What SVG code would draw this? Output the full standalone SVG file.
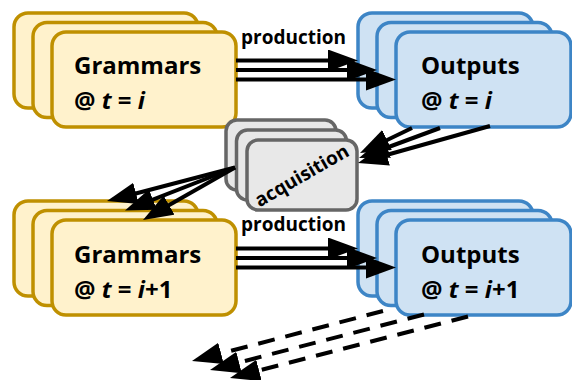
<svg xmlns="http://www.w3.org/2000/svg" width="572" height="380" viewBox="0 0 572 380">
<style>
.g{fill:#fff2cc;stroke:#bf9000;stroke-width:3.5}
.o{fill:#cfe2f3;stroke:#3d85c6;stroke-width:3.5}
.a{fill:#e8e8e8;stroke:#666666;stroke-width:3.5}
.t{font-family:"Open Sans","Noto Sans","DejaVu Sans",sans-serif;font-weight:bold;font-size:24px;fill:#000}
.s{font-family:"Open Sans","Noto Sans","DejaVu Sans",sans-serif;font-weight:bold;font-size:19px;fill:#000}
.c{fill:none;stroke:#000;stroke-width:4;marker-end:url(#ah)}
.d{stroke-dasharray:17 11}
</style>
<defs>
<marker id="ah" viewBox="0 0 30 22" markerWidth="30" markerHeight="22" markerUnits="userSpaceOnUse" refX="20" refY="11" orient="auto">
<path d="M0,0 L30,11 L0,22 z" fill="#000"/>
</marker>
</defs>
<rect width="572" height="380" fill="#fff"/>
<g id="grammars-i">
<rect class="g" x="14" y="13" width="184" height="95" rx="14"/>
<rect class="g" x="33" y="22.5" width="184" height="95" rx="14"/>
<rect class="g" x="52" y="32" width="184" height="95" rx="14"/>
<text class="t" x="74" y="74">Grammars</text>
<text class="t" x="74" y="109">@ <tspan font-style="italic">t</tspan> = <tspan font-style="italic">i</tspan></text>
</g>
<g id="outputs-i">
<rect class="o" x="358" y="13" width="175" height="95" rx="14"/>
<rect class="o" x="377" y="22.5" width="175" height="95" rx="14"/>
<rect class="o" x="396" y="32" width="175" height="95" rx="14"/>
<text class="t" x="421" y="74">Outputs</text>
<text class="t" x="421" y="109">@ <tspan font-style="italic">t</tspan> = <tspan font-style="italic">i</tspan></text>
</g>
<g id="acquisition">
<rect class="a" x="226" y="120" width="110" height="70" rx="11"/>
<rect class="a" x="236.5" y="130" width="110" height="70" rx="11"/>
<rect class="a" x="247" y="140" width="110" height="70" rx="11"/>
<text class="s" transform="translate(302,176) rotate(-30)" x="0" y="6" text-anchor="middle">acquisition</text>
</g>
<g id="grammars-i1">
<rect class="g" x="14" y="201" width="184" height="95" rx="14"/>
<rect class="g" x="33" y="210.5" width="184" height="95" rx="14"/>
<rect class="g" x="52" y="220" width="184" height="95" rx="14"/>
<text class="t" x="74" y="263">Grammars</text>
<text class="t" x="74" y="298">@ <tspan font-style="italic">t</tspan> = <tspan font-style="italic">i</tspan>+1</text>
</g>
<g id="outputs-i1">
<rect class="o" x="358" y="201" width="175" height="95" rx="14"/>
<rect class="o" x="377" y="210.5" width="175" height="95" rx="14"/>
<rect class="o" x="396" y="220" width="175" height="95" rx="14"/>
<text class="t" x="421" y="263">Outputs</text>
<text class="t" x="421" y="298">@ <tspan font-style="italic">t</tspan> = <tspan font-style="italic">i</tspan>+1</text>
</g>
<g id="connectors">
<text class="s" x="293.5" y="44" text-anchor="middle">production</text>
<text class="s" x="293.5" y="231" text-anchor="middle">production</text>
<path class="c" d="M236,60.5 L348,60.5"/>
<path class="c" d="M236,70 L367,70"/>
<path class="c" d="M236,79.5 L386,79.5"/>
<path class="c" d="M236,248.5 L348,248.5"/>
<path class="c" d="M236,258 L367,258"/>
<path class="c" d="M236,267.5 L386,267.5"/>
<path class="c" d="M412,128 L369,148.7"/>
<path class="c" d="M440,128 L368.4,154.5"/>
<path class="c" d="M490,126 L367.6,160.3"/>
<path class="c" d="M235,167.5 L116.7,198.5"/>
<path class="c" d="M235,167.5 L134.3,206.9"/>
<path class="c" d="M235,167.5 L151.7,215"/>
<path class="c d" d="M383,311 L201.7,358.5"/>
<path class="c d" d="M424,314.5 L219.7,367.5"/>
<path class="c d" d="M468,316.5 L239.7,375.5"/>
</g>
</svg>
